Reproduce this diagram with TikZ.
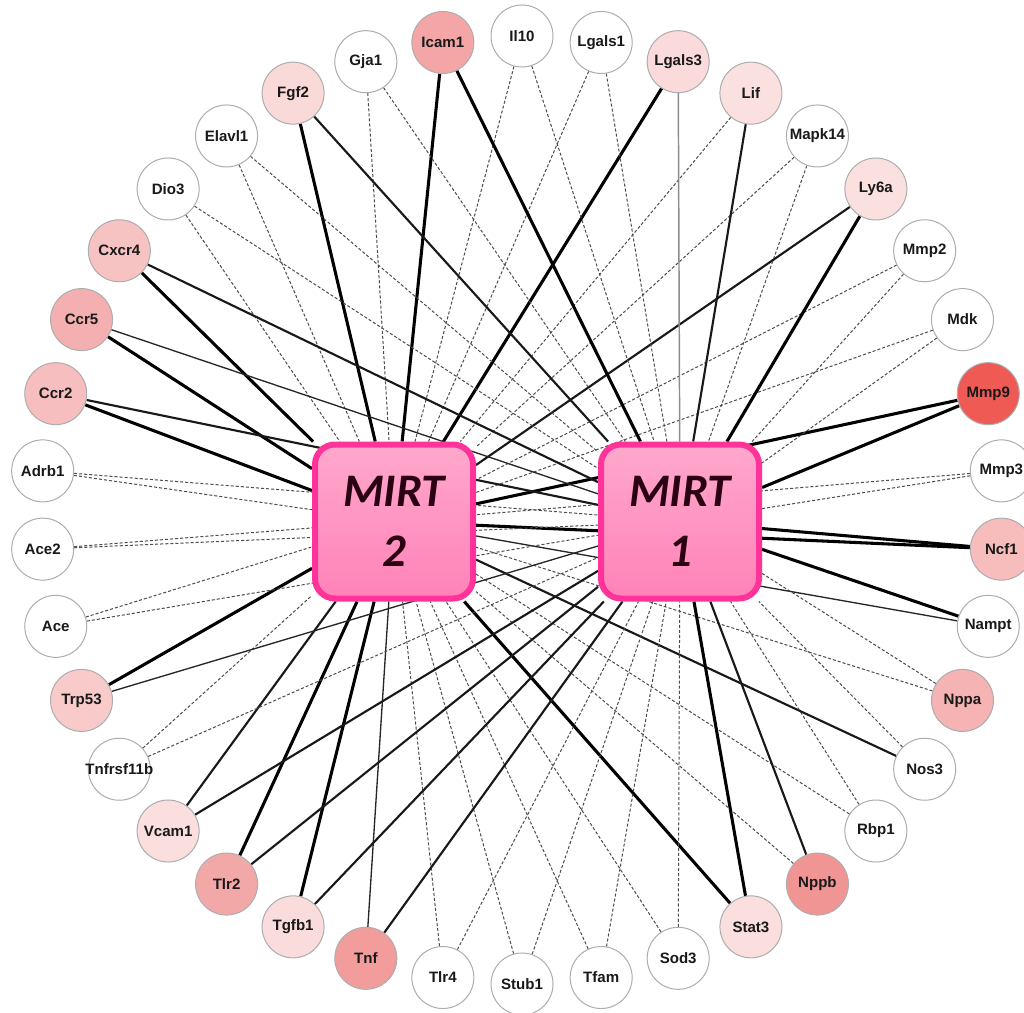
\documentclass[tikz,border=0pt]{standalone}
\usepackage{fontspec}
\newfontfamily\genefont{Liberation Sans}
\newfontfamily\mirtfont{Carlito}
\usetikzlibrary{backgrounds}
\definecolor{mborder}{HTML}{FF3399}
\definecolor{mtop}{HTML}{FFA8CC}
\definecolor{mbot}{HTML}{FF82B8}
\definecolor{mtext}{HTML}{2A0012}
\definecolor{cLgals3}{HTML}{FADADA}
\definecolor{cLif}{HTML}{FBE0E0}
\definecolor{cLy6a}{HTML}{FBE0E0}
\definecolor{cMmp9}{HTML}{F05A55}
\definecolor{cNcf1}{HTML}{F7BCBC}
\definecolor{cNppa}{HTML}{F5B3B3}
\definecolor{cNppb}{HTML}{F19494}
\definecolor{cStat3}{HTML}{FBDEDE}
\definecolor{cTnf}{HTML}{F29C9C}
\definecolor{cTgfb1}{HTML}{FADCDC}
\definecolor{cTlr2}{HTML}{F3A8A8}
\definecolor{cVcam1}{HTML}{FBDFDF}
\definecolor{cTrp53}{HTML}{F8CACA}
\definecolor{cCcr2}{HTML}{F6BEBE}
\definecolor{cCcr5}{HTML}{F4B0B0}
\definecolor{cCxcr4}{HTML}{F7C2C2}
\definecolor{cFgf2}{HTML}{FAD9D9}
\definecolor{cIcam1}{HTML}{F4A6A6}
\tikzset{
  gene/.style={circle, draw=black!32, line width=0.75pt, minimum size=46.5pt, inner sep=0pt,
    text=black!90, font=\genefont\bfseries\fontsize{11.3pt}{13pt}\selectfont},
  mirt/.style={draw=mborder, line width=4.5pt, rounded corners=15pt, top color=mtop, bottom color=mbot,
    minimum width=118.5pt, minimum height=115.5pt, inner sep=0pt, align=center, text=mtext,
    font=\mirtfont\bfseries\itshape\fontsize{35pt}{45pt}\selectfont},
  thk/.style={line width=2.3pt, black},
  med/.style={line width=1.6pt, black!90},
  thn/.style={line width=1.0pt, black!85},
  gry/.style={line width=1.1pt, black!45},
  dsh/.style={line width=0.75pt, black!70, dash pattern=on 2.3pt off 1.5pt}
}
\begin{document}
\begin{tikzpicture}[x=0.75pt,y=-0.75pt]
\useasboundingbox (0,0) rectangle (1024,1013);
\foreach \i/\n/\c in {0/Il10/white, 1/Lgals1/white, 2/Lgals3/cLgals3, 3/Lif/cLif, 4/Mapk14/white,
  5/Ly6a/cLy6a, 6/Mmp2/white, 7/Mdk/white, 8/Mmp9/cMmp9, 9/Mmp3/white, 10/Ncf1/cNcf1,
  11/Nampt/white, 12/Nppa/cNppa, 13/Nos3/white, 14/Rbp1/white, 15/Nppb/cNppb, 16/Stat3/cStat3,
  17/Sod3/white, 18/Tfam/white, 19/Stub1/white, 20/Tlr4/white, 21/Tnf/cTnf, 22/Tgfb1/cTgfb1,
  23/Tlr2/cTlr2, 24/Vcam1/cVcam1, 25/Tnfrsf11b/white, 26/Trp53/cTrp53, 27/Ace/white,
  28/Ace2/white, 29/Adrb1/white, 30/Ccr2/cCcr2, 31/Ccr5/cCcr5, 32/Cxcr4/cCxcr4, 33/Dio3/white,
  34/Elavl1/white, 35/Fgf2/cFgf2, 36/Gja1/white, 37/Icam1/cIcam1} {
  \pgfmathsetmacro\ang{\i*360/38}
  \node[gene, fill=\c] (\n) at ({522+481*sin(\ang)},{510-474*cos(\ang)}) {\makebox[0pt]{\n}};
}
\node[mirt] (M2) at (394,521.5) {MIRT\\2};
\node[mirt] (M1) at (680,521.5) {MIRT\\1};
\begin{scope}[on background layer]
  \fill[white] (0,0) rectangle (1024,1013);
  \foreach \n/\s in {Il10/dsh, Lgals1/dsh, Lgals3/thk, Lif/dsh, Mapk14/dsh, Ly6a/med, Mmp2/dsh,
    Mdk/dsh, Mmp9/thk, Mmp3/dsh, Ncf1/thk, Nampt/thn, Nppa/dsh, Nos3/med, Rbp1/dsh, Nppb/dsh,
    Stat3/thk, Sod3/dsh, Tfam/dsh, Stub1/dsh, Tlr4/dsh, Tnf/thn, Tgfb1/thk, Tlr2/thk, Vcam1/med,
    Tnfrsf11b/dsh, Trp53/thk, Ace/dsh, Ace2/dsh, Adrb1/dsh, Ccr2/thk, Ccr5/thk, Cxcr4/thk,
    Dio3/dsh, Elavl1/dsh, Fgf2/thk, Gja1/dsh, Icam1/thk}
    \draw[\s] (\n) -- (M2);
  \foreach \n/\s in {Il10/dsh, Lgals1/dsh, Lgals3/gry, Lif/med, Mapk14/dsh, Ly6a/thk, Mmp2/dsh,
    Mdk/dsh, Mmp9/thk, Mmp3/dsh, Ncf1/thk, Nampt/thk, Nppa/dsh, Nos3/dsh, Rbp1/dsh, Nppb/med,
    Stat3/thk, Sod3/dsh, Tfam/dsh, Stub1/dsh, Tlr4/dsh, Tnf/med, Tgfb1/med, Tlr2/med, Vcam1/med,
    Tnfrsf11b/dsh, Trp53/thn, Ace/dsh, Ace2/dsh, Adrb1/dsh, Ccr2/med, Ccr5/thn, Cxcr4/med,
    Dio3/dsh, Elavl1/dsh, Fgf2/med, Gja1/dsh, Icam1/thk}
    \draw[\s] (\n) -- (M1);
\end{scope}
\end{tikzpicture}
\end{document}
